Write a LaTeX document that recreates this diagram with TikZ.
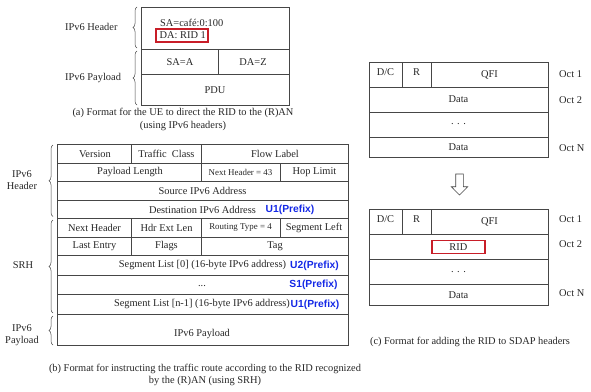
\documentclass[tikz,border=0pt]{standalone}
\usepackage{fontspec}
\setmainfont{Liberation Serif}
\newfontfamily\sansbold{Liberation Sans}[BoldFont={Liberation Sans Bold}]
\usetikzlibrary{decorations.pathreplacing}
\definecolor{linec}{RGB}{70,70,70}
\definecolor{ridred}{RGB}{200,30,40}
\definecolor{prefblue}{RGB}{20,40,230}
\newcommand{\fs}{\fontsize{10.4}{12}\selectfont}
\newcommand{\fss}{\fontsize{8.9}{10}\selectfont}
\newcommand{\fbl}{\sansbold\bfseries\fontsize{10.3}{12}\selectfont}
\tikzset{
  cell/.style={draw=linec, line width=0.6pt},
  txt/.style={font=\fs, inner sep=0pt, text=black!85},
  smalltxt/.style={font=\fss, inner sep=0pt, text=black!85},
  bluelab/.style={font=\fbl, text=prefblue, inner sep=0pt},
  redbox/.style={draw=ridred, line width=1.2pt, inner sep=0pt},
  brc/.style={draw=linec, line width=0.5pt, decorate, decoration={brace, amplitude=4pt}},
  captxt/.style={font=\fs, inner sep=0pt, align=center, text=black!85},
}
\begin{document}
\begin{tikzpicture}[x=1pt, y=-1pt]
\useasboundingbox (0,0) rectangle (591,391);
% ---------- (a)
\draw[cell] (141,7) rectangle (289,105);
\draw[cell] (141,49) -- (289,49) (141,74) -- (289,74) (218,49) -- (218,74);
\node[txt, anchor=west] (asa) at (160,22.5) {SA=café:0:100};
\node[txt, redbox, minimum width=52pt, minimum height=13pt] (ada) at (182,35.5) {};
\node[txt, anchor=west] (adat) at (159.5,35.5) {DA: RID 1};
\node[txt] (asaa) at (180,62) {SA=A};
\node[txt] (adaz) at (253,62) {DA=Z};
\node[txt] (apdu) at (215,90) {PDU};
\draw[brc] (137,48) -- (137,7);
\draw[brc] (137,105) -- (137,51);
\node[txt, anchor=west] (ahdr) at (65,27) {IPv6 Header};
\node[txt, anchor=west] (apay) at (65,78) {IPv6 Payload};
\node[captxt] (capa) at (183,119.5) {(a) Format for the UE to direct the RID to the (R)AN\\[0.5pt](using IPv6 headers)};
% ---------- (b)
\draw[cell] (57,144.7) rectangle (348,345);
\foreach \yy in {163,181.5,200,218.7,237.3,255.7,275,294.7,314}
  \draw[cell] (57,\yy) -- (348,\yy);
\draw[cell] (131.5,144.7) -- (131.5,163) (201.5,144.7) -- (201.5,181.5) (280,163) -- (280,181.5);
\draw[cell] (131.5,218.7) -- (131.5,255.7) (201.5,218.7) -- (201.5,255.7) (280,218.7) -- (280,237.3);
\node[txt] (bver) at (95,154) {Version};
\node[txt] (btc) at (166.5,154) {Traffic\ \ Class};
\node[txt] (bfl) at (275,154) {Flow Label};
\node[txt] (bpl) at (130,172.5) {Payload Length};
\node[smalltxt] (bnh) at (240.5,172.5) {Next Header = 43};
\node[txt] (bhl) at (314.5,172.5) {Hop Limit};
\node[txt] (bsrc) at (202.5,191) {Source IPv6 Address};
\node[txt] (bdst) at (202.5,209.5) {Destination IPv6 Address};
\node[bluelab] (bu1a) at (290,209.5) {U1(Prefix)};
\node[txt] (bnh2) at (94.5,228) {Next Header};
\node[txt] (bhel) at (166.5,228) {Hdr Ext Len};
\node[smalltxt] (brt) at (240.5,228) {Routing Type = 4};
\node[txt] (bsl) at (314,228) {Segment Left};
\node[txt] (ble) at (94.5,246.5) {Last Entry};
\node[txt] (bfg) at (166.5,246.5) {Flags};
\node[txt] (btag) at (275,246.5) {Tag};
\node[txt] (bsl0) at (202.5,265.5) {Segment List [0] (16-byte IPv6 address)};
\node[bluelab] (bu2) at (314.5,265.5) {U2(Prefix)};
\node[txt] (bdots) at (202,286) {...};
\node[bluelab] (bs1) at (313.5,285) {S1(Prefix)};
\node[txt] (bsln) at (202,304.5) {Segment List [n-1] (16-byte IPv6 address)};
\node[bluelab] (bu1b) at (315,304.5) {U1(Prefix)};
\node[txt] (bpay) at (202,334) {IPv6 Payload};
\draw[brc] (53,216.5) -- (53,145);
\draw[brc] (53,313) -- (53,220);
\draw[brc] (53,345) -- (53,316);
\node[captxt] (bhdr) at (22,180.5) {IPv6\\Header};
\node[txt] (bsrh) at (23,265.5) {SRH};
\node[captxt] (bpayl) at (22,335) {IPv6\\Payload};
\node[captxt] (capb) at (205,375) {(b) Format for instructing the traffic route according to the RID recognized\\[0.5pt]by the (R)AN (using SRH)};
% ---------- (c) top
\draw[cell] (369,62) rectangle (548,157);
\draw[cell] (369,87) -- (548,87) (369,112) -- (548,112) (369,137) -- (548,137);
\draw[cell] (402,62) -- (402,87) (431,62) -- (431,87);
\node[txt] (c1dc) at (385.5,72) {D/C};
\node[txt] (c1r) at (416.5,72) {R};
\node[txt] (c1q) at (489.5,75) {QFI};
\node[txt] (c1d) at (458.5,99.5) {Data};
\node[txt] (c1dots) at (458.5,124) {. . .};
\node[txt] (c1dn) at (458.5,147) {Data};
\node[txt, anchor=west] (c1o1) at (559,74.5) {Oct 1};
\node[txt, anchor=west] (c1o2) at (559,100.5) {Oct 2};
\node[txt, anchor=west] (c1on) at (559,148) {Oct N};
% arrow
\draw[draw=linec, line width=0.6pt, fill=white] (455.7,174) -- (463.3,174) -- (463.3,186.7) -- (467.7,186.7) -- (459.5,195) -- (451.3,186.7) -- (455.7,186.7) -- cycle;
% ---------- (c) bottom
\draw[cell] (369,209.3) rectangle (548,305);
\draw[cell] (369,234) -- (548,234) (369,259.3) -- (548,259.3) (369,284.3) -- (548,284.3);
\draw[cell] (402,209.3) -- (402,234) (431,209.3) -- (431,234);
\node[txt] (c2dc) at (385.5,219.5) {D/C};
\node[txt] (c2r) at (416.5,219.5) {R};
\node[txt] (c2q) at (489.5,222) {QFI};
\node[txt, redbox, minimum width=53pt, minimum height=12.6pt] (c2ridb) at (458.4,247) {};
\node[txt] (c2rid) at (458.4,247) {RID};
\node[txt] (c2dots) at (458.5,272) {. . .};
\node[txt] (c2dn) at (458.5,295) {Data};
\node[txt, anchor=west] (c2o1) at (559,219) {Oct 1};
\node[txt, anchor=west] (c2o2) at (559,244) {Oct 2};
\node[txt, anchor=west] (c2on) at (559,293) {Oct N};
\node[captxt] (capc) at (470,341.5) {(c) Format for adding the RID to SDAP headers};
\end{tikzpicture}
\end{document}
